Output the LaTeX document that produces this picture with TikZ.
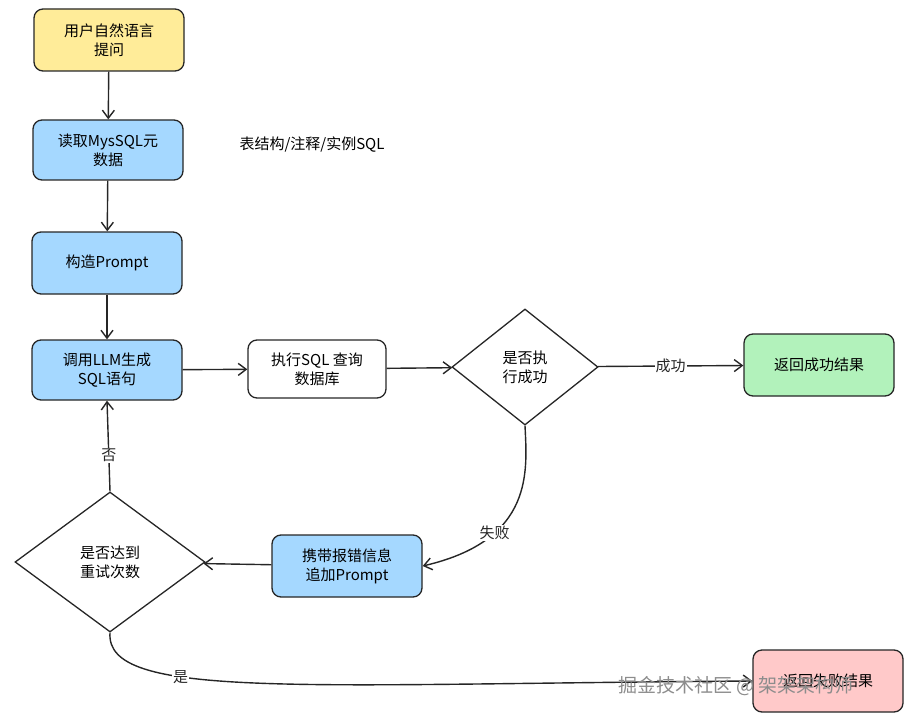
\documentclass[tikz,border=0pt]{standalone}
\usepackage{fontspec}
\setmainfont{Noto Sans CJK SC}
\usetikzlibrary{shapes.geometric,arrows.meta}
\begin{document}
\begin{tikzpicture}[x=1pt,y=-1pt,
 box/.style={draw=black!85,line width=1.3pt,rounded corners=9pt,minimum width=150pt,minimum height=62pt,align=center,font=\fontsize{15}{19}\selectfont},
 dia/.style={draw=black!85,line width=1.3pt,diamond,aspect=1.1,inner sep=2pt,align=center,font=\fontsize{15}{19}\selectfont},
 arr/.style={-{Straight Barb[length=8pt,width=12pt]},line width=1.4pt,black!85},
 lab/.style={fill=white,inner sep=1pt,font=\fontsize{15}{19}\selectfont}]
\useasboundingbox (0,0) rectangle (912,722);
\node[box,fill={rgb,255:red,255;green,236;blue,153}] (n1) at (109,40) {用户自然语言\\提问};
\node[box,fill={rgb,255:red,165;green,216;blue,255},minimum height=60pt] (n2) at (108,150) {读取MysSQL元\\数据};
\node[font=\fontsize{15}{19}\selectfont] (t) at (312,145) {表结构/注释/实例SQL};
\node[box,fill={rgb,255:red,165;green,216;blue,255}] (n3) at (107,263) {构造Prompt};
\node[box,fill={rgb,255:red,165;green,216;blue,255},minimum height=60pt] (n4) at (107,370) {调用LLM生成\\SQL语句};
\node[box,minimum width=138pt,minimum height=58pt] (n5) at (317,369) {执行SQL 查询\\数据库};
\node[dia,minimum width=146pt,minimum height=116pt] (d1) at (525,367) {是否执\\行成功};
\node[box,fill={rgb,255:red,178;green,242;blue,187}] (n6) at (819,365) {返回成功结果};
\node[box,fill={rgb,255:red,165;green,216;blue,255}] (n7) at (347,566) {携带报错信息\\追加Prompt};
\node[dia,minimum width=190pt,minimum height=140pt] (d2) at (110,562) {是否达到\\重试次数};
\node[box,fill={rgb,255:red,255;green,201;blue,201}] (n8) at (828,681) {返回失败结果};
\draw[arr] (n1) -- (n2);
\draw[arr] (n2) -- (n3);
\draw[arr] (n3) -- (n4);
\draw[arr] (n4) -- (n5);
\draw[arr] (n5) -- (d1);
\draw[arr] (d1) -- node[lab] {成功} (n6);
\draw[arr] (d1.south) .. controls (527,470) and (535,540) .. node[lab,pos=0.7] {失败} (n7.east);
\draw[arr] (n7) -- (d2);
\draw[arr] (d2.north) -- node[lab,pos=0.4] {否} (n4.south);
\draw[arr] (d2.south) .. controls (105,700) and (300,684) .. node[lab,pos=0.35] {是} (n8.west);
\node[text=black!45,font=\fontsize{19}{22}\selectfont] (wm) at (736,686) {掘金技术社区 @ 架架架构师};
\end{tikzpicture}
\end{document}
